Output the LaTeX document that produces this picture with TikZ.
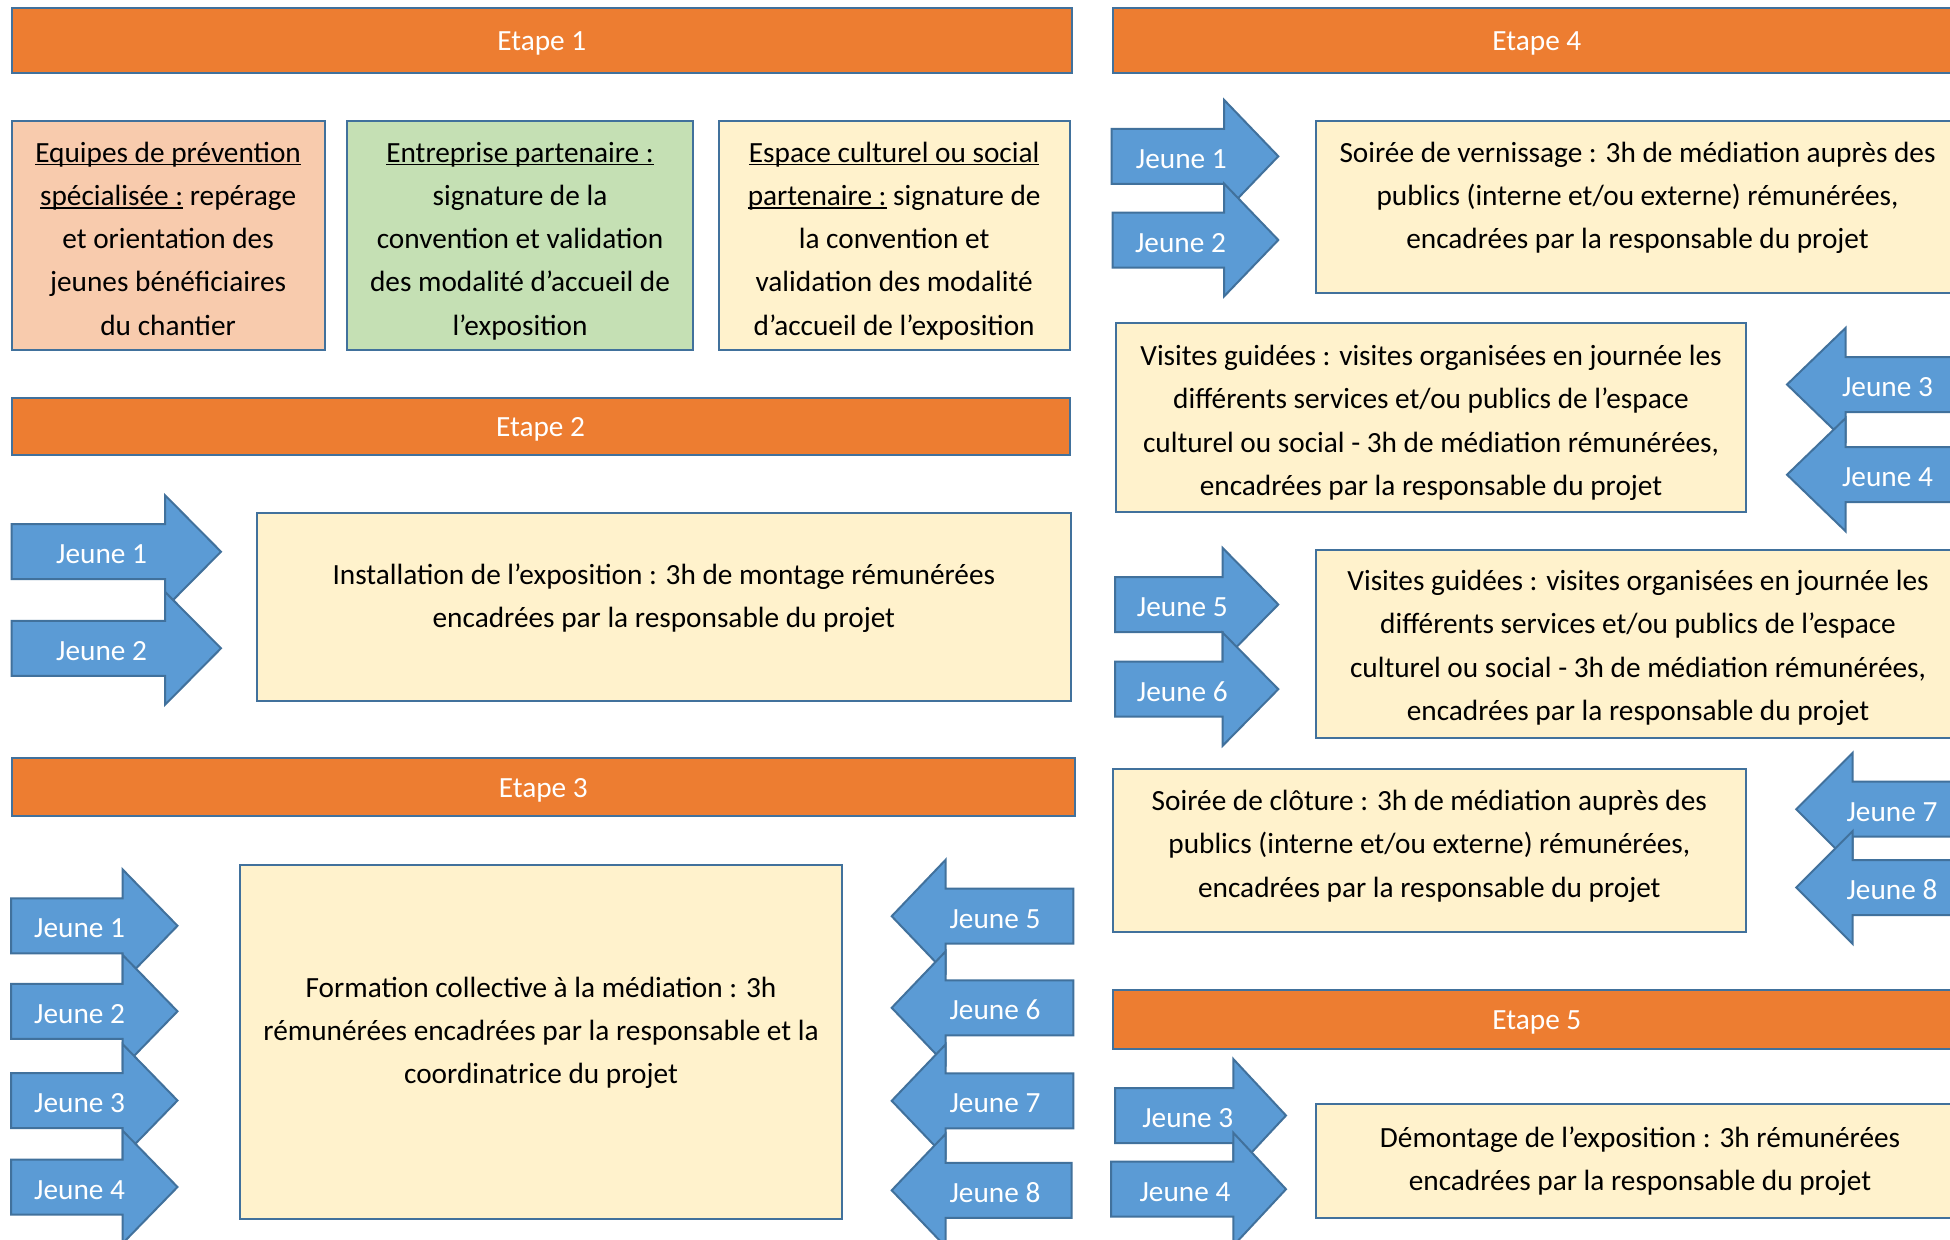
\documentclass[tikz,border=0pt]{standalone}
\usepackage{fontspec}
\setmainfont{Carlito}
\newsavebox{\ulinbox}
\newcommand\ulin[1]{\sbox{\ulinbox}{#1}\rlap{\rule[-3pt]{\wd\ulinbox}{1.5pt}}\usebox{\ulinbox}}
\definecolor{orng}{HTML}{ED7D31}
\definecolor{bord}{HTML}{41719C}
\definecolor{blu}{HTML}{5B9BD5}
\definecolor{cream}{HTML}{FFF2CC}
\definecolor{peach}{HTML}{F8CBAD}
\definecolor{lgreen}{HTML}{C5E0B4}
\tikzset{
  bar/.style={draw=bord, line width=2pt, fill=orng, text=white, inner sep=0pt, outer sep=0pt,
    text height=26.5pt, text depth=6pt, font=\fontsize{29.3}{35}\selectfont},
  box/.style={draw=bord, line width=2pt, fill=cream, inner sep=0pt, outer sep=0pt},
  txt/.style={inner sep=0pt, anchor=base, font=\fontsize{29.3}{43.2}\selectfont},
  arr/.style={draw=bord, line width=2pt, fill=blu, line join=miter},
  jtxt/.style={inner sep=0pt, anchor=base, text=white, font=\fontsize{29.3}{35}\selectfont},
}
\newcommand\mtext[4]{\node[txt] (#1) at (#2,#3) {\begin{tabular}[t]{@{}c@{}}#4\end{tabular}};}
\newcommand\jarrow[7]{%
  \draw[arr] (#1,#4-27.5) -- (#2,#4-27.5) -- (#2,#4-56.5) -- (#3,#4) -- (#2,#4+56.5) -- (#2,#4+27.5) -- (#1,#4+27.5) -- cycle;
  \node[jtxt] (#6) at (#5,#4+12) {#7};}
\newcommand\barnode[6]{\node[bar, minimum width=#4pt, minimum height=#5pt] (#1) at (#2,#3) {#6};}
\newcommand\boxnode[6]{\node[box, fill=#6, minimum width=#4pt, minimum height=#5pt] (#1) at (#2,#3) {};}
\begin{document}
\begin{tikzpicture}[x=1pt, y=-1pt]
\useasboundingbox (0,0) rectangle (1950,1239);
\clip (0,0) rectangle (1950,1239);
\fill[white] (0,0) rectangle (1950,1239);

% stage bars
\barnode{e1}{541.8}{40.5}{1060.4}{64.4}{Etape 1}
\barnode{e2}{540.55}{426.65}{1057.9}{56.7}{Etape 2}
\barnode{e3}{543.3}{787.15}{1063.4}{57.7}{Etape 3}
\barnode{e4}{1536.85}{40.5}{848.3}{64.4}{Etape 4}
\barnode{e5}{1536.85}{1019.5}{848.3}{59}{Etape 5}

% boxes
\boxnode{eq}{168.1}{235.35}{313}{229.3}{peach}
\boxnode{ent}{520}{235.35}{345.4}{229.3}{lgreen}
\boxnode{esp}{894.15}{235.35}{350.7}{229.3}{cream}
\boxnode{inst}{663.85}{607}{813.7}{187.4}{cream}
\boxnode{form}{541.05}{1042}{601.3}{354}{cream}
\boxnode{vern}{1638}{206.7}{644}{172}{cream}
\boxnode{vis1}{1430.85}{417.8}{629.7}{189}{cream}
\boxnode{vis2}{1638}{643.85}{644}{187.7}{cream}
\boxnode{clot}{1429.5}{850.2}{632.4}{163}{cream}
\boxnode{dem}{1638}{1161.3}{644}{114}{cream}

% box texts
\mtext{teq}{168.1}{162.3}{\ulin{Equipes de prévention}\\ \ulin{spécialisée :} repérage\\ et orientation des\\ jeunes bénéficiaires\\ du chantier}
\mtext{tent}{520}{162.3}{\ulin{Entreprise partenaire :}\\ signature de la\\ convention et validation\\ des modalité d’accueil de\\ l’exposition}
\mtext{tesp}{894.15}{162.3}{\ulin{Espace culturel ou social}\\ \ulin{partenaire :} signature de\\ la convention et\\ validation des modalité\\ d’accueil de l’exposition}
\mtext{tinst}{663.85}{584}{Installation de l’exposition : 3h de montage rémunérées\\ encadrées par la responsable du projet}
\mtext{tform}{541}{997.3}{Formation collective à la médiation : 3h\\ rémunérées encadrées par la responsable et la\\ coordinatrice du projet}
\mtext{tvern}{1637.5}{162.3}{Soirée de vernissage : 3h de médiation auprès des\\ publics (interne et/ou externe) rémunérées,\\ encadrées par la responsable du projet}
\mtext{tvis1}{1431}{365.7}{Visites guidées : visites organisées en journée les\\ différents services et/ou publics de l’espace\\ culturel ou social - 3h de médiation rémunérées,\\ encadrées par la responsable du projet}
\mtext{tvis2}{1638}{590.7}{Visites guidées : visites organisées en journée les\\ différents services et/ou publics de l’espace\\ culturel ou social - 3h de médiation rémunérées,\\ encadrées par la responsable du projet}
\mtext{tclot}{1429.3}{810.7}{Soirée de clôture : 3h de médiation auprès des\\ publics (interne et/ou externe) rémunérées,\\ encadrées par la responsable du projet}
\mtext{tdem}{1640}{1147.3}{Démontage de l’exposition : 3h rémunérées\\ encadrées par la responsable du projet}

% Etape 2 arrows
\jarrow{11.6}{165}{221}{551.7}{101.6}{a2j1}{Jeune 1}
\jarrow{11.6}{165}{221}{648.3}{101.6}{a2j2}{Jeune 2}

% Etape 3 arrows (left)
\jarrow{11}{122.5}{177.5}{925.8}{79.6}{a3j1}{Jeune 1}
\jarrow{11}{122.5}{177.5}{1011.3}{79.6}{a3j2}{Jeune 2}
\jarrow{11}{122.5}{177.5}{1100.5}{79.6}{a3j3}{Jeune 3}
\jarrow{11}{122.5}{177.5}{1187}{79.6}{a3j4}{Jeune 4}
% Etape 3 arrows (right)
\jarrow{1073.3}{945.7}{891.7}{916.2}{995}{a3j5}{Jeune 5}
\jarrow{1073.3}{945.7}{891.7}{1007.8}{995}{a3j6}{Jeune 6}
\jarrow{1073.3}{945.7}{891.7}{1100.8}{995}{a3j7}{Jeune 7}
\jarrow{1071.7}{945.7}{891.7}{1190.3}{995}{a3j8}{Jeune 8}

% Etape 4 arrows
\jarrow{1111.7}{1224}{1278.3}{156.3}{1181.3}{a4j1}{Jeune 1}
\jarrow{1112.7}{1224}{1278.3}{240}{1180.5}{a4j2}{Jeune 2}
\jarrow{1975}{1845.5}{1787}{384.5}{1887.5}{a4j3}{Jeune 3}
\jarrow{1975}{1845.5}{1787}{474.7}{1887.5}{a4j4}{Jeune 4}
\jarrow{1115}{1222.7}{1278.3}{604.5}{1182.3}{a4j5}{Jeune 5}
\jarrow{1115}{1222.7}{1278.3}{689.2}{1182.3}{a4j6}{Jeune 6}
\jarrow{1975}{1852.7}{1796.2}{809.2}{1892}{a4j7}{Jeune 7}
\jarrow{1975}{1852.7}{1796.2}{887.5}{1892}{a4j8}{Jeune 8}

% Etape 5 arrows
\jarrow{1115}{1233.3}{1286}{1115.5}{1187.7}{a5j3}{Jeune 3}
\jarrow{1111}{1233.3}{1286}{1189.2}{1185}{a5j4}{Jeune 4}
\end{tikzpicture}
\end{document}
